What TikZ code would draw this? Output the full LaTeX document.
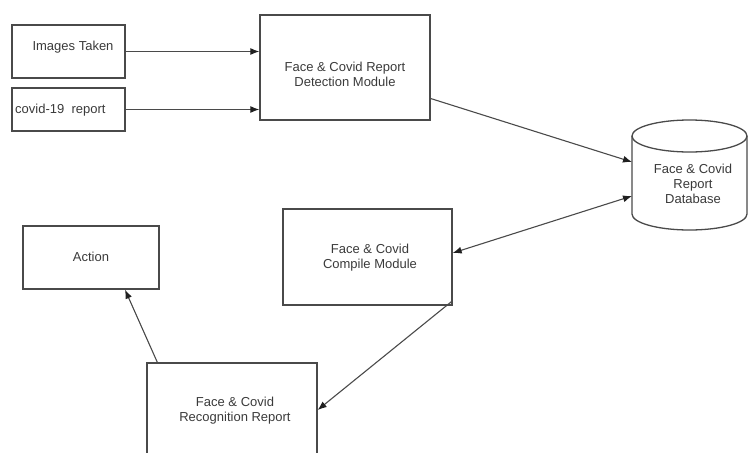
\documentclass[tikz,border=0pt]{standalone}
\usepackage{fontspec}
\setmainfont{Liberation Sans}
\usetikzlibrary{arrows.meta}
\definecolor{linegray}{HTML}{4A4A4A}
\definecolor{textgray}{HTML}{3A3A3A}
\definecolor{tipgray}{HTML}{202020}
\begin{document}
\begin{tikzpicture}[x=1pt,y=-1pt,
  tip/.tip={Latex[length=9pt,width=7pt,color=tipgray]},
  box/.style={draw=linegray, line width=1.3pt, inner sep=0pt, align=center,
    text=textgray, font=\fontsize{13}{15}\selectfont},
  conn/.style={draw=linegray, line width=1.1pt, -tip},
  lbl/.style={inner sep=0pt, align=center, text=textgray, font=\fontsize{13}{15}\selectfont}]
\useasboundingbox (0,0) rectangle (748,453);
\begin{scope}
\clip (0,0) rectangle (748,453);
% boxes
\node[box, minimum width=113pt, minimum height=53pt] (img) at (68.5,51.5) {};
\node[lbl] at (73,47) {Images Taken};
\node[box, minimum width=113pt, minimum height=43pt] (cov) at (68.5,109.5) {};
\node[lbl, anchor=west] at (15,110) {covid-19~ report};
\node[box, minimum width=170pt, minimum height=105pt] (det) at (345,67.5) {};
\node[lbl] at (345,74) {Face \& Covid Report\\Detection Module};
\node[box, minimum width=169pt, minimum height=96pt] (cmp) at (367.5,257) {};
\node[lbl] at (370,258) {Face \& Covid\\Compile Module};
\node[box, minimum width=136pt, minimum height=63pt] (act) at (91,257.5) {};
\node[lbl] at (91,257) {Action};
\node[box, minimum width=170pt, minimum height=100pt] (rec) at (232,413) {};
\node[lbl] at (235,411) {Face \& Covid\\Recognition Report};
% database cylinder
\draw[draw=linegray, line width=1.3pt, fill=white]
  (632,136) -- (632,214) arc[start angle=180, end angle=0, x radius=57.5, y radius=16]
  -- (747,136) arc[start angle=0, end angle=-180, x radius=57.5, y radius=16] -- cycle;
\draw[draw=linegray, line width=1.3pt]
  (632,136) arc[start angle=180, end angle=0, x radius=57.5, y radius=16];
\node[lbl] (db) at (693,184) {Face \& Covid\\Report\\Database};
\coordinate (dbA) at (632,162);
\coordinate (dbB) at (632,196);
% connectors
\draw[conn] (img.east) -- (img.east -| det.west);
\draw[conn] (cov.east) -- (cov.east -| det.west);
\draw[conn] ([yshift=-31pt]det.east) -- (dbA);
\draw[conn, tip-tip] ([yshift=4pt]cmp.east) -- (dbB);
\draw[conn] ([yshift=5pt]cmp.south east) -- ([yshift=3pt]rec.east);
\draw[conn] ([xshift=11pt]rec.north west) -- ([xshift=34pt]act.south);
\end{scope}
\end{tikzpicture}
\end{document}
